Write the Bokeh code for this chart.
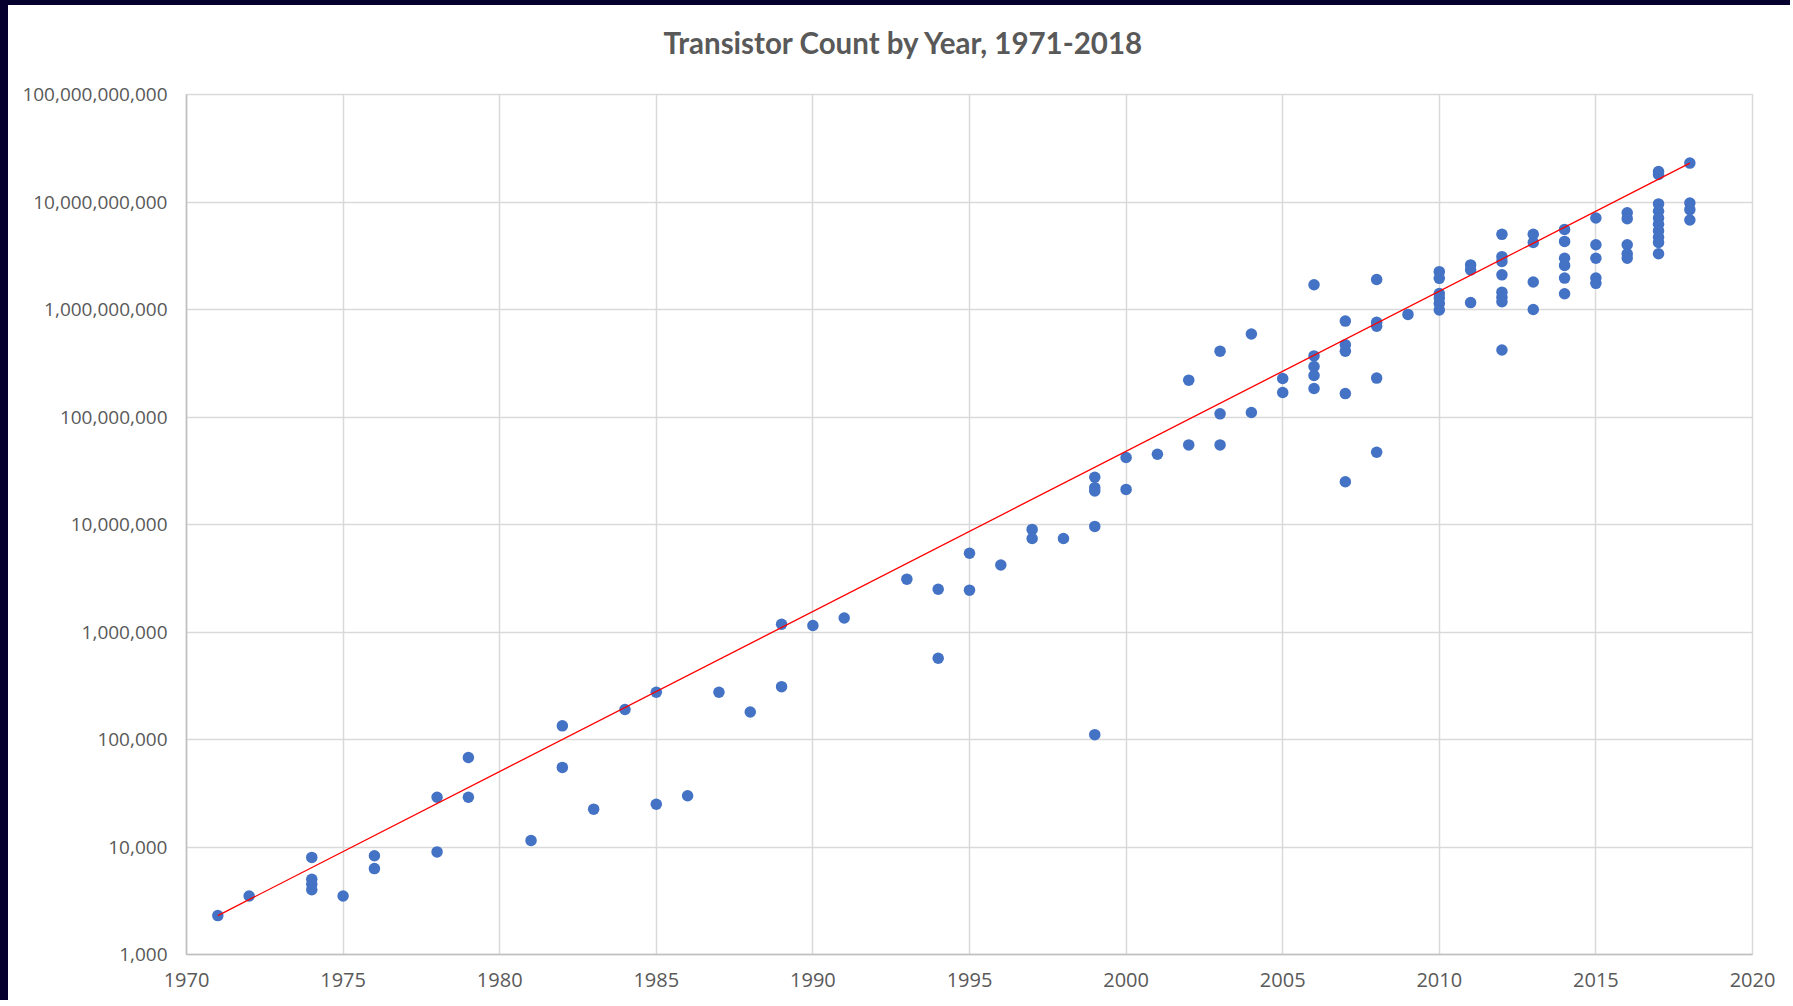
from bokeh.plotting import figure
from bokeh.layouts import column
from bokeh.models import Range1d, FixedTicker, NumeralTickFormatter, ColumnDataSource, Title
from bokeh.embed import file_html
from bokeh.resources import INLINE

# ---- data ----
years = (
    [1971, 1972, 1974, 1974, 1974, 1974, 1975, 1976, 1976, 1978, 1978, 1979, 1979,
     1981, 1982, 1982, 1983, 1984, 1985, 1985, 1986, 1987, 1988, 1989, 1989, 1990,
     1991, 1993, 1994, 1994, 1995, 1995, 1996, 1997, 1997, 1998,
     1999, 1999, 1999, 1999, 1999, 2000, 2000, 2001, 2002, 2002, 2003, 2003, 2003,
     2004, 2004, 2005, 2005,
     2006, 2006, 2006, 2006, 2006,
     2007, 2007, 2007, 2007, 2007,
     2008, 2008, 2008, 2008, 2008,
     2009,
     2010, 2010, 2010, 2010, 2010, 2010,
     2011, 2011, 2011,
     2012, 2012, 2012, 2012, 2012, 2012, 2012, 2012,
     2013, 2013, 2013, 2013,
     2014, 2014, 2014, 2014, 2014, 2014,
     2015, 2015, 2015, 2015, 2015,
     2016, 2016, 2016, 2016, 2016,
     2017, 2017, 2017, 2017, 2017, 2017, 2017, 2017, 2017, 2017,
     2018, 2018, 2018, 2018]
)
counts = (
    [2300, 3500, 8000, 5000, 4500, 4000, 3500, 8300, 6300, 29000, 9000, 68000, 29000,
     11500, 134000, 55000, 22500, 190000, 275000, 25000, 30000, 275000, 180000,
     1180000, 310000, 1150000,
     1350000, 3100000, 2500000, 570000, 5400000, 2450000, 4200000, 9000000, 7400000,
     7400000,
     27500000, 22000000, 20500000, 9600000, 111000, 42000000, 21200000, 45000000,
     220000000, 55000000, 410000000, 107000000, 55000000,
     592000000, 110000000, 228000000, 169000000,
     1700000000, 370000000, 295000000, 243000000, 184000000,
     780000000, 470000000, 410000000, 165000000, 25000000,
     1900000000, 760000000, 700000000, 230000000, 47000000,
     900000000,
     2250000000, 1950000000, 1410000000, 1280000000, 1140000000, 990000000,
     2600000000, 2340000000, 1160000000,
     5000000000, 3100000000, 2800000000, 2100000000, 1450000000, 1300000000,
     1180000000, 420000000,
     5000000000, 4200000000, 1800000000, 1000000000,
     5560000000, 4300000000, 3000000000, 2570000000, 1960000000, 1400000000,
     7100000000, 4000000000, 3000000000, 1960000000, 1750000000,
     7950000000, 7000000000, 4000000000, 3300000000, 3000000000,
     19200000000, 18000000000, 9600000000, 8200000000, 7100000000, 6200000000,
     5400000000, 4700000000, 4200000000, 3300000000,
     23000000000, 9800000000, 8500000000, 6800000000]
)
trend_years = [1971, 2018]
trend_counts = [2300, 23000000000]

x_ticks = [1970, 1975, 1980, 1985, 1990, 1995, 2000, 2005, 2010, 2015, 2020]
y_ticks = [1e3, 1e4, 1e5, 1e6, 1e7, 1e8, 1e9, 1e10, 1e11]

title_text = "Transistor Count by Year, 1971-2018"

GRID = "#d9d9d9"
LABEL = "#595959"
FRAME_DARK = "#06002e"

p = figure(
    width=1782, height=995,
    x_range=Range1d(1970, 2020), y_range=Range1d(1e3, 1e11),
    y_axis_type="log",
    output_backend="svg", toolbar_location=None,
)
p.margin = (5, 0, 0, 8)
p.min_border_left = 178
p.min_border_right = 38
p.min_border_top = 89
p.min_border_bottom = 46
p.background_fill_color = "white"
p.border_fill_color = "white"
p.outline_line_color = GRID
p.outline_line_width = 1.5

# a thin blank gap between the plot frame and the title
p.add_layout(Title(text=" ", text_font_size="2px", standoff=16), "above")
# chart title (added last, so it sits outermost)
p.add_layout(
    Title(
        text=title_text, align="left", offset=477, standoff=29,
        text_font="Lato", text_font_style="bold", text_font_size="29.5px",
        text_color=LABEL,
    ),
    "above",
)

p.xaxis.ticker = FixedTicker(ticks=x_ticks)
p.yaxis.ticker = FixedTicker(ticks=y_ticks)
p.xgrid.ticker = FixedTicker(ticks=x_ticks)
p.ygrid.ticker = FixedTicker(ticks=y_ticks)
p.yaxis.formatter = NumeralTickFormatter(format="0,0")

for ax in (p.xaxis[0], p.yaxis[0]):
    ax.axis_line_color = "#bfbfbf"
    ax.axis_line_width = 1.5
    ax.major_tick_line_color = None
    ax.minor_tick_line_color = None
    ax.major_tick_out = 0
    ax.major_tick_in = 0
    ax.minor_tick_out = 0
    ax.minor_tick_in = 0
    ax.major_label_text_color = LABEL
    ax.major_label_text_font = "Open Sans"
p.yaxis.major_label_text_font_size = "19px"
p.xaxis.major_label_text_font_size = "20px"
p.xaxis.major_label_standoff = 18
p.yaxis.major_label_standoff = 19

p.xgrid.grid_line_color = GRID
p.ygrid.grid_line_color = GRID
p.xgrid.grid_line_width = 1.5
p.ygrid.grid_line_width = 1.5

src = ColumnDataSource(data=dict(year=years, count=counts))
p.scatter("year", "count", source=src, size=11.5, color="#4472C4", line_color=None)
p.line(trend_years, trend_counts, line_color="#FF0000", line_width=1.3)

# dark strip on the left and top edges only, white elsewhere
layout = column(p, styles={
    "background": (
        f"linear-gradient(to right, {FRAME_DARK} 8px, transparent 8px), "
        f"linear-gradient(to bottom, {FRAME_DARK} 5px, white 5px)"
    ),
})

open("out.html", "w").write(file_html(layout, INLINE))
